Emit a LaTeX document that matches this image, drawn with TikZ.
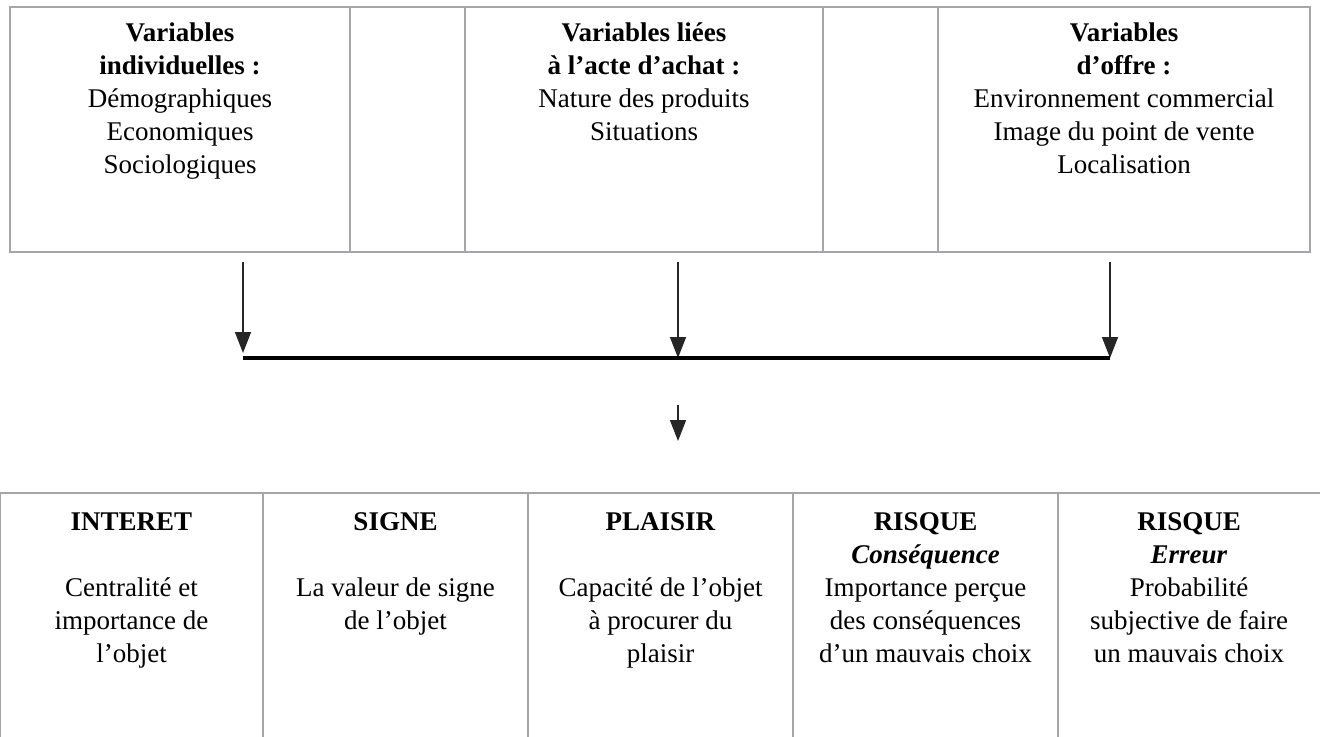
\documentclass[tikz,border=0pt]{standalone}
\usepackage{fontspec}
\setmainfont{Liberation Serif}
\usetikzlibrary{arrows.meta}
\definecolor{gridgray}{RGB}{165,165,170}
\begin{document}
\begin{tikzpicture}[x=0.5pt,y=-0.5pt,
  cell/.style={draw=gridgray, line width=0.6pt, inner sep=0pt, outer sep=0pt, rectangle},
  thickgrid/.style={draw=gridgray, line width=1.3pt},
  txt/.style={align=center, inner sep=0pt, anchor=north, font=\fontsize{13.5pt}{16.5pt}\selectfont},
  arr/.style={draw=black!85, line width=0.75pt, -{Triangle[width=8pt,length=10.5pt]}},
  bar/.style={draw=black, line width=1.6pt}]
\useasboundingbox (0,0) rectangle (1320,736);
\clip (0,0) rectangle (1320,736);
% top table cells
\node[cell, minimum width=170pt, minimum height=122.5pt] (c1) at (180,129.5) {};
\node[cell, minimum width=57.5pt, minimum height=122.5pt] (e1) at (407.5,129.5) {};
\node[cell, minimum width=179pt, minimum height=122.5pt] (c2) at (644,129.5) {};
\node[cell, minimum width=57.5pt, minimum height=122.5pt] (e2) at (880.5,129.5) {};
\node[cell, minimum width=186pt, minimum height=122.5pt] (c3) at (1124,129.5) {};
\draw[thickgrid] (c1.north west) rectangle (c3.south east);
\draw[thickgrid] (c1.north east) -- (c1.south east);
\draw[thickgrid] (c2.north east) -- (c2.south east);
\draw[thickgrid] (e2.north east) -- (e2.south east);
% top texts
\node[txt] (t1) at (180,18) {\strut\textbf{Variables}\\ \textbf{individuelles :}\\ Démographiques\\ Economiques\\ Sociologiques};
\node[txt] (t2) at (644,18) {\strut\textbf{Variables liées}\\ \textbf{à l'acte d'achat :}\\ Nature des produits\\ Situations};
\node[txt] (t3) at (1124,18) {\strut\textbf{Variables}\\ \textbf{d'offre :}\\ Environnement commercial\\ Image du point de vente\\ Localisation};
% arrows
\coordinate (s1) at (243,262);
\coordinate (s2) at (678,262);
\coordinate (s3) at (1110,262);
\coordinate (h1) at (243,353);
\coordinate (h2) at (678,358);
\coordinate (h3) at (1110,358);
\coordinate (bl) at (243,358);
\coordinate (br) at (1110,358);
\coordinate (s4) at (678,405);
\coordinate (h4) at (678,441);
\draw[arr] (s1) -- (h1);
\draw[arr] (s2) -- (h2);
\draw[arr] (s3) -- (h3);
\draw[bar] (bl) -- (br);
\draw[arr] (s4) -- (h4);
% bottom table cells
\node[cell, minimum width=131.5pt, minimum height=143.5pt] (b1) at (131.5,636.5) {};
\node[cell, minimum width=132.5pt, minimum height=143.5pt] (b2) at (395.5,636.5) {};
\node[cell, minimum width=132.5pt, minimum height=143.5pt] (b3) at (660.5,636.5) {};
\node[cell, minimum width=132.5pt, minimum height=143.5pt] (b4) at (925.5,636.5) {};
\node[cell, minimum width=136pt, minimum height=143.5pt] (b5) at (1194,636.5) {};
\draw[thickgrid] (b1.north west) -- (b5.north east);
\draw[thickgrid] (b1.north east) -- (b1.south east);
\draw[thickgrid] (b2.north east) -- (b2.south east);
\draw[thickgrid] (b4.north east) -- (b4.south east);
% bottom texts
\node[txt] (u1) at (131.5,506.5) {\strut\textbf{INTERET}\\[16.5pt] Centralité et\\ importance de\\ l'objet};
\node[txt] (u2) at (395.5,506.5) {\strut\textbf{SIGNE}\\[16.5pt] La valeur de signe\\ de l'objet};
\node[txt] (u3) at (660.5,506.5) {\strut\textbf{PLAISIR}\\[16.5pt] Capacité de l'objet\\ à procurer du\\ plaisir};
\node[txt] (u4) at (925.5,506.5) {\strut\textbf{RISQUE}\\ \textbf{\textit{Conséquence}}\\ Importance perçue\\ des conséquences\\ d'un mauvais choix};
\node[txt] (u5) at (1189,506.5) {\strut\textbf{RISQUE}\\ \textbf{\textit{Erreur}}\\ Probabilité\\ subjective de faire\\ un mauvais choix};
\end{tikzpicture}
\end{document}
